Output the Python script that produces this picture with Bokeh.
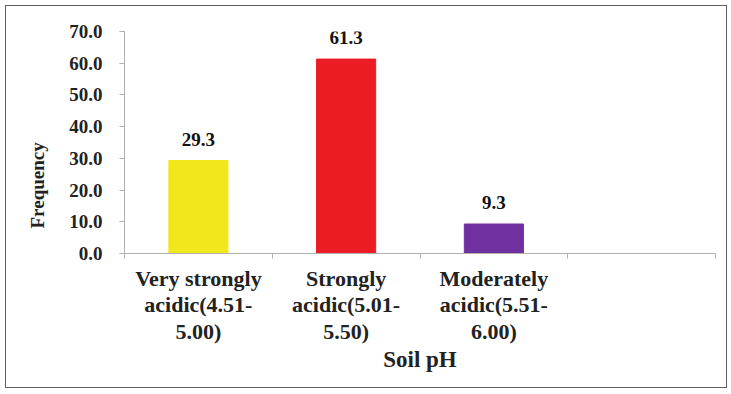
import math
from bokeh.plotting import figure
from bokeh.models import FixedTicker, Range1d, NumeralTickFormatter, ColumnDataSource, Title
from bokeh.core.properties import value
from bokeh.embed import file_html
from bokeh.resources import INLINE

categories = ["Very strongly\nacidic(4.51-\n5.00)",
              "Strongly\nacidic(5.01-\n5.50)",
              "Moderately\nacidic(5.51-\n6.00)"]
frequency = [29.3, 61.3, 9.3]
bar_colors = ["#f2e61c", "#ec1c24", "#7030a0"]
n_slots = 4
y_ticks = [0, 10, 20, 30, 40, 50, 60, 70]

centers = [i + 0.5 for i in range(len(categories))]
bounds = list(range(n_slots + 1))

FONT = "Liberation Serif"
AXIS_GRAY = "#b0b0b0"

p = figure(width=722, height=383,
           x_range=Range1d(0, n_slots), y_range=Range1d(0, y_ticks[-1]),
           output_backend="svg", toolbar_location=None,
           min_border_left=118, min_border_right=13,
           min_border_top=25, min_border_bottom=136)
p.outline_line_color = None
p.xgrid.visible = False
p.ygrid.visible = False
p.styles = {"border": "1px solid #606060", "margin": "5px"}

src = ColumnDataSource(dict(x=centers, top=frequency, color=bar_colors,
                            label=[f"{v:.1f}" for v in frequency]))
p.vbar(x="x", top="top", width=0.4, color="color", source=src)
p.text(x="x", y="top", text="label", source=src, text_align="center",
       text_baseline="bottom", y_offset=-15,
       text_font=value(FONT), text_font_style="bold", text_font_size="19px",
       text_color="#111111")

# x axis
xa = p.xaxis[0]
xa.ticker = FixedTicker(ticks=centers, minor_ticks=bounds)
xa.major_label_overrides = {c: lab for c, lab in zip(centers, categories)}
xa.major_tick_line_color = None
xa.minor_tick_in = 0
xa.minor_tick_out = 5
xa.minor_tick_line_color = AXIS_GRAY
xa.axis_line_color = AXIS_GRAY
xa.major_label_text_font = FONT
xa.major_label_text_font_style = "bold"
xa.major_label_text_font_size = "22px"
xa.major_label_text_line_height = 1.07
xa.major_label_text_color = "#222222"
xa.major_label_standoff = 6
xa.axis_label = "Soil pH"
xa.axis_label_text_font = FONT
xa.axis_label_text_font_style = "bold"
xa.axis_label_text_font_size = "23px"
xa.axis_label_text_color = "#222222"
xa.axis_label_standoff = 0

# y axis
ya = p.yaxis[0]
ya.ticker = FixedTicker(ticks=y_ticks)
ya.formatter = NumeralTickFormatter(format="0.0")
ya.minor_tick_line_color = None
ya.major_tick_in = 0
ya.major_tick_out = 5
ya.major_tick_line_color = AXIS_GRAY
ya.axis_line_color = AXIS_GRAY
ya.major_label_text_font = FONT
ya.major_label_text_font_style = "bold"
ya.major_label_text_font_size = "19px"
ya.major_label_text_color = "#222222"
ya.major_label_standoff = 17

# y axis title, placed below the frame's middle as in the reference
p.add_layout(Title(text="Frequency", align="left", offset=25, standoff=37,
                   text_font=FONT, text_font_style="bold", text_font_size="19px",
                   text_color="#222222"), "left")

open("out.html", "w").write(file_html(p, INLINE))
